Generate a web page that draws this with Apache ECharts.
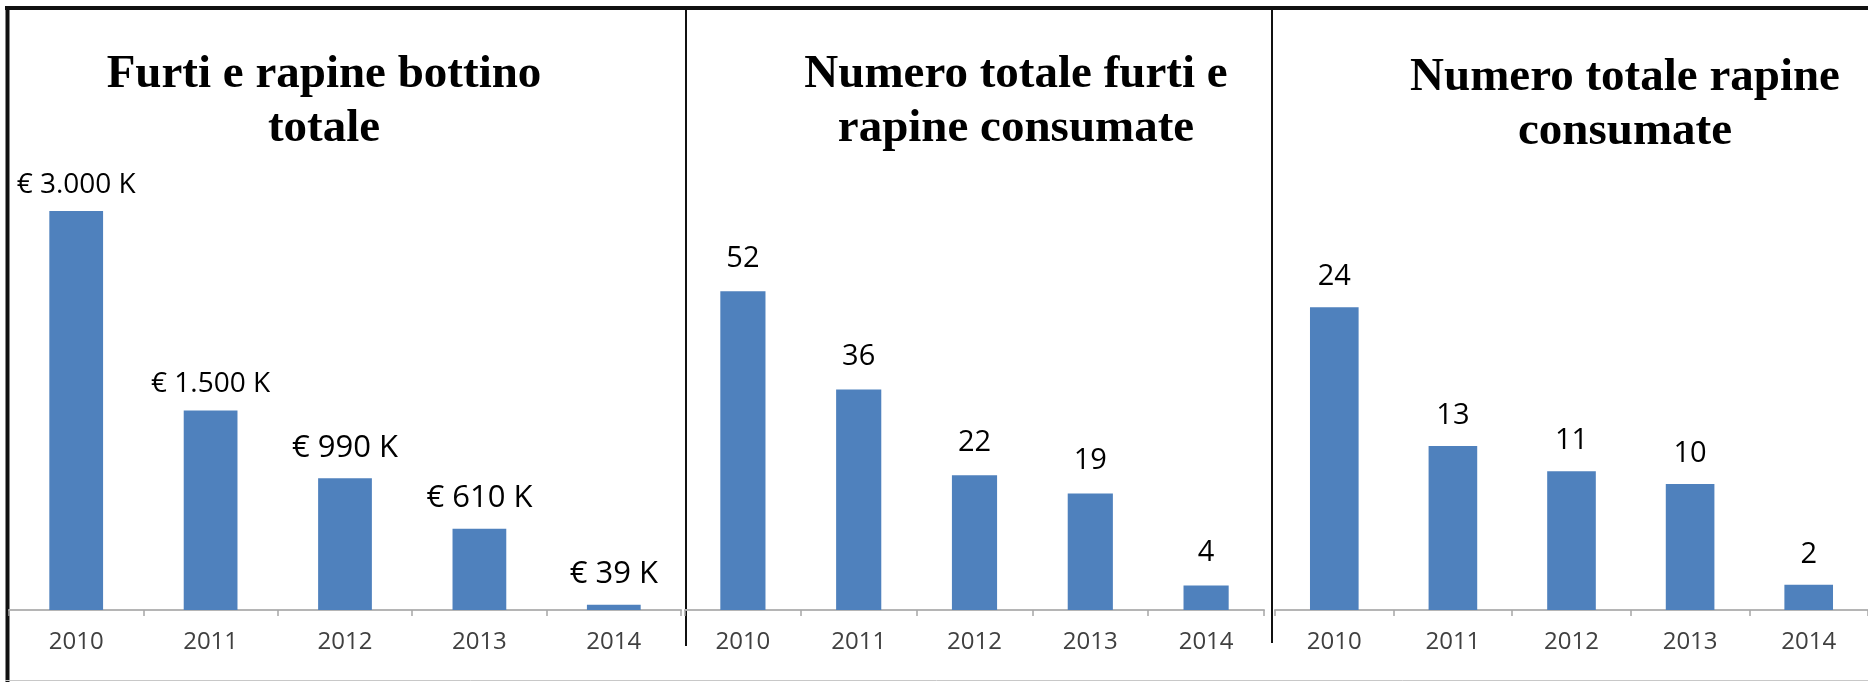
<!DOCTYPE html>
<html>
<head>
<meta charset="utf-8">
<title>Furti e rapine 2010-2014</title>
<script src="https://cdn.jsdelivr.net/npm/echarts@6/dist/echarts.min.js"></script>
<style>
  html, body { margin: 0; padding: 0; background: #fff; }
  #chart { width: 1868px; height: 682px; }
</style>
</head>
<body>
<div id="chart"></div>
<script>
// data
const years = ['2010', '2011', '2012', '2013', '2014']
const bottinoK = [3000, 1500, 990, 610, 39]      // € migliaia
const furtiRapine = [52, 36, 22, 19, 4]
const rapine = [24, 13, 11, 10, 2]
const titles = [
  'Furti e rapine bottino\ntotale',
  'Numero totale furti e\nrapine consumate',
  'Numero totale rapine\nconsumate'
]

const barColor = '#4f81bd'
const labelFont = 'Open Sans'

// "3000" -> "3.000"
function thousands(v) {
  return String(v).replace(/\B(?=(\d{3})+(?!\d))/g, '.')
}

// panel layout: [left, width, top of grid, y max, title center, title top]
const panels = [
  [9, 672, 144.5, 3500, 324, 48],
  [685, 579, 242.3, 60, 1016, 48],
  [1275, 594, 231.7, 30, 1625, 51]
]

const chart = echarts.init(document.getElementById('chart'))

const xAxisBase = (i) => ({
  type: 'category',
  gridIndex: i,
  data: years,
  axisLine: { lineStyle: { color: '#b5b5b5', width: 2 } },
  axisTick: { show: true, length: 6, lineStyle: { color: '#a6a6a6', width: 1.5 } },
  axisLabel: {
    color: '#404040',
    fontFamily: labelFont,
    fontSize: 24,
    margin: 20
  }
})

chart.setOption({
  backgroundColor: '#fff',
  animation: false,
  title: panels.map((p, i) => ({
    text: titles[i],
    left: p[4],
    top: p[5],
    padding: 0,
    textAlign: 'center',
    textStyle: {
      fontFamily: 'Liberation Serif',
      fontWeight: 'bold',
      fontSize: 47,
      lineHeight: 54,
      color: '#000'
    }
  })),
  grid: panels.map(p => ({
    left: p[0],
    width: p[1],
    top: p[2],
    bottom: 72,
    containLabel: false
  })),
  xAxis: [xAxisBase(0), xAxisBase(1), xAxisBase(2)],
  yAxis: panels.map((p, i) => ({
    type: 'value',
    gridIndex: i,
    min: 0,
    max: p[3],
    show: false
  })),
  series: [
    {
      type: 'bar',
      xAxisIndex: 0,
      yAxisIndex: 0,
      barWidth: '40%',
      itemStyle: { color: barColor },
      data: bottinoK.map(v => ({
        value: v,
        // the 4-digit labels are drawn a bit smaller in the original
        label: { fontSize: v >= 1000 ? 28 : 31, distance: v >= 1000 ? 12 : 15 }
      })),
      label: {
        show: true,
        position: 'top',
        color: '#000',
        fontFamily: labelFont,
        formatter: p => '€ ' + thousands(p.value) + ' K'
      }
    },
    {
      type: 'bar',
      xAxisIndex: 1,
      yAxisIndex: 1,
      barWidth: '39%',
      itemStyle: { color: barColor },
      data: furtiRapine,
      label: {
        show: true,
        position: 'top',
        distance: 18,
        color: '#000',
        fontFamily: labelFont,
        fontSize: 29
      }
    },
    {
      type: 'bar',
      xAxisIndex: 2,
      yAxisIndex: 2,
      barWidth: '41%',
      itemStyle: { color: barColor },
      data: rapine,
      label: {
        show: true,
        position: 'top',
        distance: 16,
        color: '#000',
        fontFamily: labelFont,
        fontSize: 29
      }
    }
  ],
  // frame and panel dividers
  graphic: [
    { type: 'line', shape: { x1: 5, y1: 8, x2: 1868, y2: 8 }, style: { stroke: '#111', lineWidth: 4 } },
    { type: 'line', shape: { x1: 7.5, y1: 6, x2: 7.5, y2: 682 }, style: { stroke: '#111', lineWidth: 4 } },
    { type: 'line', shape: { x1: 5, y1: 680.5, x2: 1868, y2: 680.5 }, style: { stroke: '#c8c8c8', lineWidth: 1 } },
    { type: 'line', shape: { x1: 686, y1: 8, x2: 686, y2: 646 }, style: { stroke: '#111', lineWidth: 2 } },
    { type: 'line', shape: { x1: 1272, y1: 8, x2: 1272, y2: 643 }, style: { stroke: '#111', lineWidth: 2 } }
  ]
})
</script>
</body>
</html>
